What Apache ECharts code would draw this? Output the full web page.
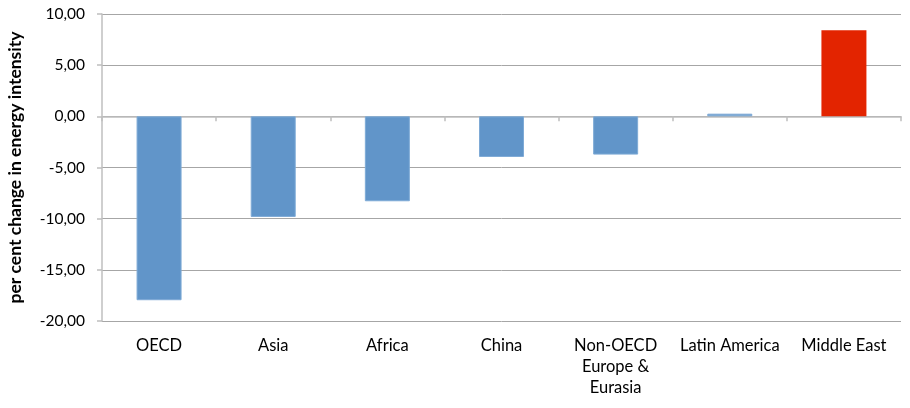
<!DOCTYPE html>
<html>
<head>
<meta charset="utf-8">
<script src="https://cdn.jsdelivr.net/npm/echarts@6/dist/echarts.min.js"></script>
<style>
  html, body { margin: 0; padding: 0; background: #fff; }
  #chart { width: 910px; height: 408px; }
</style>
</head>
<body>
<div id="chart"></div>
<script>
// Regions and their change in energy intensity (per cent)
const regions = ['OECD', 'Asia', 'Africa', 'China', 'Non-OECD\nEurope &\nEurasia', 'Latin America', 'Middle East'];
const changeValues = [-17.97, -9.83, -8.3, -3.97, -3.74, 0.26, 8.4];
const highlightRegion = 'Middle East';

const yMin = -20, yMax = 10, yStep = 5;
const yAxisTitle = 'per cent change in energy intensity';

const FONT = 'Lato, "Open Sans", sans-serif';
const BLUE = '#6195c9';
const RED = '#e32400';

const chart = echarts.init(document.getElementById('chart'), null, { renderer: 'canvas' });

chart.setOption({
  animation: false,
  backgroundColor: '#ffffff',
  grid: { left: 102, right: 9, top: 14, bottom: 87, containLabel: false, outerBoundsMode: 'none' },
  xAxis: [
    {
      // axis line across zero with boundary ticks
      type: 'category',
      data: regions,
      axisLine: { onZero: true, lineStyle: { color: '#bfbfbf', width: 1.5 } },
      axisTick: { show: true, length: 5, alignWithLabel: false, lineStyle: { color: '#bfbfbf', width: 1.5 } },
      axisLabel: { show: false },
      splitLine: { show: false }
    },
    {
      // category names along the bottom
      type: 'category',
      data: regions,
      position: 'bottom',
      axisLine: { show: false, onZero: false },
      axisTick: { show: false },
      axisLabel: {
        show: true,
        interval: 0,
        margin: 14,
        fontFamily: FONT,
        fontSize: 16.5,
        lineHeight: 21,
        color: '#000',
        verticalAlign: 'top',
        align: 'center'
      }
    }
  ],
  yAxis: {
    type: 'value',
    min: yMin,
    max: yMax,
    interval: yStep,
    name: yAxisTitle,
    nameLocation: 'middle',
    nameGap: 78,
    nameRotate: 90,
    nameTextStyle: { fontFamily: FONT, fontSize: 17.5, fontWeight: 'bold', color: '#000' },
    axisLine: { show: true, lineStyle: { color: '#bfbfbf', width: 1.5 } },
    axisTick: { show: true, length: 5, lineStyle: { color: '#bfbfbf', width: 1.5 } },
    axisLabel: {
      margin: 17,
      fontFamily: FONT,
      fontSize: 15.5,
      color: '#000',
      formatter: v => v.toFixed(2).replace('.', ',')
    },
    splitLine: { show: true, lineStyle: { color: '#a6a6a6', width: 1 } }
  },
  series: [{
    type: 'bar',
    xAxisIndex: 0,
    barWidth: 45,
    data: changeValues.map((v, i) => ({
      value: v,
      itemStyle: regions[i] === highlightRegion
        ? { color: RED, borderColor: RED, borderWidth: 0 }
        : { color: BLUE, borderColor: '#7eaad6', borderWidth: 1 }
    }))
  }]
});
</script>
</body>
</html>
